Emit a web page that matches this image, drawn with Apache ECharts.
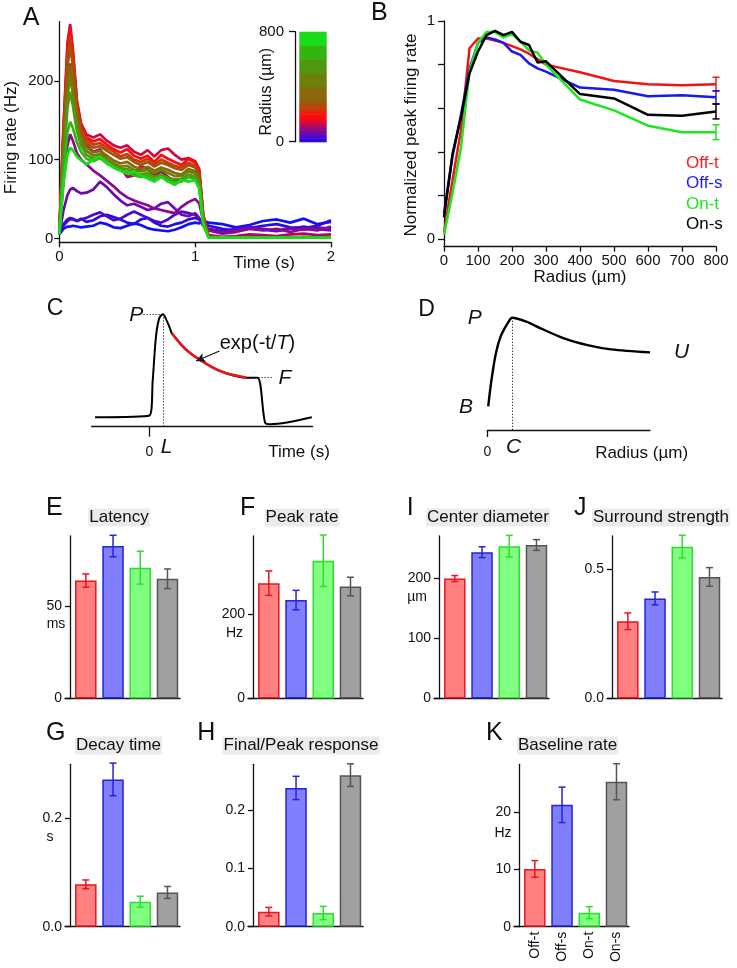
<!DOCTYPE html>
<html><head><meta charset="utf-8">
<script src="https://cdn.jsdelivr.net/npm/echarts@6/dist/echarts.min.js"></script>
<style>html,body{margin:0;padding:0;background:#fff}#c{width:737px;height:968px}</style>
</head><body><div id="c"></div>
<script>
// ---------- Panel A: firing-rate traces ----------
const timeA = [0,0.03,0.06,0.08,0.1,0.13,0.16,0.2,0.25,0.3,0.35,0.4,0.45,0.5,0.55,0.6,0.65,0.7,0.75,0.8,0.85,0.9,0.95,1.0,1.03,1.06,1.1,1.2,1.3,1.4,1.5,1.6,1.7,1.8,1.9,2.0];
const radiiA = [0,25,50,75,100,125,150,200,250,300,400,500,600,700,800];
const traceR0   = [5,12,15,15,16,15,14,15,16,20,18,14,13,16,19,17,13,11,10,9,11,14,18,20,19,22,20,18,14,17,22,24,20,25,18,21];
const traceR25  = [5,16,22,24,25,22,25,21,23,28,30,27,24,20,18,24,26,20,16,15,18,20,24,26,24,20,16,12,10,13,16,18,14,13,16,23];
const traceR50  = [5,18,24,26,24,22,24,26,30,33,28,23,25,30,34,30,26,22,20,24,30,34,32,30,24,16,12,9,12,14,11,9,12,15,12,10];
const traceR75  = [5,35,55,62,64,60,57,58,62,72,65,56,48,42,44,40,36,38,44,46,38,30,28,32,26,16,11,8,10,14,12,10,13,11,14,12];
const traceR100 = [5,70,118,132,124,108,100,94,86,80,73,66,58,52,48,45,42,38,36,34,32,40,46,50,44,22,10,6,8,12,10,12,8,12,10,15];
const traceR125 = [5,120,200,222,192,150,130,118,110,113,100,95,90,78,80,92,88,80,85,78,72,75,80,78,68,22,4,2,3,5,4,3,5,6,4,5];
const traceR150 = [5,140,248,272,240,175,146,132,128,132,124,118,115,118,110,106,112,104,112,114,106,100,102,98,88,30,3,1,2,1,2,1,1,2,1,2];
const traceR200 = [5,135,240,266,236,172,143,128,123,126,119,113,109,113,105,101,105,97,106,101,97,93,101,96,86,28,2,1,1,2,1,1,2,1,1,2];
const traceR250 = [5,130,230,256,228,168,139,125,119,121,115,110,104,107,100,97,101,94,100,96,92,90,96,92,82,26,2,1,1,1,1,1,1,1,1,1];
const traceR300 = [5,124,218,244,218,162,135,121,115,117,111,106,101,103,97,93,97,91,96,93,89,87,93,90,80,25,1,1,1,1,1,1,1,1,1,1];
const traceR400 = [5,112,196,220,198,152,128,116,109,111,105,99,95,97,91,88,91,86,90,87,83,81,88,85,76,23,1,1,1,1,1,1,1,1,1,1];
const traceR500 = [5,102,180,205,184,144,123,111,105,107,101,95,91,92,87,85,87,83,87,83,79,79,85,82,72,22,1,1,1,1,1,1,1,1,1,1];
const traceR600 = [5,92,165,186,168,136,118,106,101,104,98,92,88,88,83,81,83,78,81,77,75,75,81,78,68,20,1,1,1,1,1,1,1,1,1,1];
const traceR700 = [5,82,135,148,140,122,110,101,98,102,95,90,86,84,80,78,80,74,78,74,71,72,78,75,65,18,1,1,1,1,1,1,1,1,1,1];
const traceR800 = [5,70,106,115,112,104,99,94,100,104,96,90,86,82,85,80,76,72,78,72,68,74,72,74,63,16,1,1,1,1,1,1,1,1,1,1];
const tracesA = [traceR0,traceR25,traceR50,traceR75,traceR100,traceR125,traceR150,traceR200,traceR250,traceR300,traceR400,traceR500,traceR600,traceR700,traceR800];
const timeTicksA = [0,1,2];
const rateTicksA = [0,100,200];

// colour scale (radius -> colour), also the colour-bar bands
const colorRadii = [0,25,50,75,100,125,150,175,200,225,250,275,300,400,500,600,700,800];
const colorHex   = ['#1010ff','#2a0ae6','#4a0acc','#6a0ab0','#8a0a90','#aa0a6a','#d00a40','#f00a1a','#ff0a0a','#e8200a','#cc380a','#b4480a','#a0560a','#88680a','#6e800c','#50980e','#34b410','#18dc18'];
const colorBarTicks = [0,800];

// ---------- Panel B ----------
const radiiB = [0,25,50,75,100,125,150,175,200,225,250,275,300,400,500,600,700,800];
const offT = [0.03,0.27,0.50,0.875,0.92,0.92,0.91,0.90,0.885,0.87,0.85,0.825,0.80,0.765,0.725,0.71,0.705,0.71];
const offS = [0.118,0.38,0.57,0.78,0.90,0.925,0.915,0.90,0.86,0.845,0.806,0.783,0.768,0.695,0.685,0.655,0.66,0.65];
const onT  = [0.02,0.21,0.42,0.77,0.90,0.95,0.95,0.925,0.94,0.905,0.865,0.855,0.80,0.64,0.59,0.52,0.49,0.49];
const onS  = [0.10,0.39,0.56,0.76,0.86,0.935,0.955,0.935,0.95,0.905,0.89,0.81,0.815,0.665,0.645,0.57,0.565,0.585];
const errB800 = [0.032,0.03,0.034,0.034];
const legendB = ['Off-t','Off-s','On-t','On-s'];
const yTicksB = [0,0.2,0.4,0.6,0.8,1];
const yLabelsB = [0,1];

// ---------- Panel C / D schematics ----------
const schemC_t = [-0.504,0,0.03,0.06,0.09,0.124,0.15,0.19,0.207,0.356,0.574,0.704,0.899,1.0,1.07,1.12,1.503];
const schemC_v = [-0.017,0.0,0.35,0.78,0.96,1.0,0.96,0.86,0.812,0.634,0.48,0.42,0.374,0.374,-0.07,-0.085,-0.017];
const decayC_t = [0.207,0.356,0.574,0.704,0.899];
const decayC_v = [0.812,0.634,0.48,0.42,0.374];
const schemD_r = [0.5,2.5,5.2,8.1,12.4,15.3,24,32.7,47.1,61.6,76,100];
const schemD_v = [0.21,0.445,0.682,0.831,0.949,1.0,0.964,0.905,0.816,0.756,0.718,0.691];

// ---------- Bar panels ----------
const categories = ['Off-t','Off-s','On-t','On-s'];
const latency = [63.7,82.4,70.7,64.7],      latencyErr = [3.6,5.8,8.9,5.3];
const peakRate = [273,233,326,265],          peakRateErr = [29,23,61,22];
const centerDiam = [200,244,254,256],        centerDiamErr = [5,9,18,9];
const surround = [0.298,0.386,0.586,0.469],  surroundErr = [0.032,0.025,0.044,0.036];
const decayTime = [0.078,0.271,0.046,0.063], decayTimeErr = [0.008,0.03,0.01,0.011];
const finalPeak = [0.0257,0.238,0.0235,0.26],finalPeakErr = [0.0074,0.02,0.0114,0.0194];
const baseline = [10.1,21.3,2.45,25.35],     baselineErr = [1.46,3.1,1.05,3.15];

// ================= build =================
const FONT = "'Liberation Sans', Arial, sans-serif";
const INK = '#111';
const AX = {color:'#111', width:1.3};
const barFill = ['#ff8080','#8080ff','#80ff80','#a0a0a0'];
const barEdge = ['#e8141e','#2424d8','#2ede2e','#555555'];
const lineB = ['#f01414','#1818e8','#1ee61e','#000000'];

const grids=[], xAxes=[], yAxes=[], series=[], graphics=[];
function grid(l,t,w,h){grids.push({left:l,top:t,width:w,height:h});return grids.length-1;}
function colorFor(r){return colorHex[colorRadii.indexOf(r)];}
function lbl(size){return {color:INK,fontFamily:FONT,fontSize:size};}

function xAx(gi,o){xAxes.push(Object.assign({type:'value',gridIndex:gi,position:'bottom',splitLine:{show:false},
  axisLine:{show:true,onZero:false,lineStyle:AX}},o));return xAxes.length-1;}
function yAx(gi,o){yAxes.push(Object.assign({type:'value',gridIndex:gi,position:'left',splitLine:{show:false},
  axisLine:{show:true,onZero:false,lineStyle:AX}},o));return yAxes.length-1;}

function T(text,x,y,o){o=o||{};graphics.push({type:'text',x:x,y:y,rotation:o.rot||0,silent:true,z:10,
  style:Object.assign({text:text,fill:o.color||INK,fontFamily:FONT,fontSize:o.size||17,fontStyle:o.italic?'italic':'normal',
  align:o.align||'center',verticalAlign:'middle',backgroundColor:o.bg,padding:o.pad},o.extra||{})});}

function errRender(colors,cap){return function(params,api){
  const x=api.value(0),v=api.value(1),e=api.value(2),c=colors[api.value(3)];
  const p1=api.coord([x,v+e]),p2=api.coord([x,v-e]);const st={stroke:c,lineWidth:1.5};
  return {type:'group',children:[
    {type:'line',shape:{x1:p1[0],y1:p1[1],x2:p2[0],y2:p2[1]},style:st},
    {type:'line',shape:{x1:p1[0]-cap,y1:p1[1],x2:p1[0]+cap,y2:p1[1]},style:st},
    {type:'line',shape:{x1:p2[0]-cap,y1:p2[1],x2:p2[0]+cap,y2:p2[1]},style:st}]};};}

// ---- A ----
let g=grid(59.3,21.7,271.7,220.6);
let xi=xAx(g,{min:0,max:2,axisTick:{customValues:timeTicksA,length:5,lineStyle:AX},axisLabel:Object.assign({customValues:timeTicksA,margin:7},lbl(15))});
let yi=yAx(g,{min:-5,max:275,axisTick:{customValues:rateTicksA,length:5,lineStyle:AX},axisLabel:Object.assign({customValues:rateTicksA,margin:6},lbl(15))});
tracesA.forEach((tr,k)=>{series.push({type:'line',xAxisIndex:xi,yAxisIndex:yi,symbol:'none',silent:true,
  lineStyle:{width:2.7,color:colorFor(radiiA[k])},data:timeA.map((t,i)=>[t,tr[i]])});});
// colour bar
g=grid(299.3,31.7,27.4,110);
xi=xAx(g,{show:false,min:0,max:1});
yi=yAx(g,{min:0,max:800,offset:4.3,axisTick:{customValues:colorBarTicks,length:6,lineStyle:AX},axisLabel:Object.assign({customValues:colorBarTicks,margin:11},lbl(15))});
series.push({type:'custom',xAxisIndex:xi,yAxisIndex:yi,silent:true,
  data:colorRadii.slice(0,-1).map((r,i)=>[i,r,colorRadii[i+1]]),
  renderItem:(p,api)=>{const a=api.coord([0,api.value(1)]),b=api.coord([1,api.value(2)]);
    return {type:'rect',shape:{x:a[0],y:b[1],width:b[0]-a[0],height:a[1]-b[1]+0.6},style:{fill:colorHex[api.value(0)+1]}};}});

// ---- B ----
g=grid(444,21,272,225.7);
xi=xAx(g,{min:0,max:800,interval:100,axisTick:{length:5,lineStyle:AX},axisLabel:Object.assign({margin:7},lbl(15))});
yi=yAx(g,{min:-0.035,max:1,axisTick:{customValues:yTicksB,length:6,lineStyle:AX},axisLabel:Object.assign({customValues:yLabelsB,margin:9},lbl(15))});
[offT,offS,onT,onS].forEach((arr,k)=>{series.push({type:'line',xAxisIndex:xi,yAxisIndex:yi,symbol:'none',silent:true,
  lineStyle:{width:2.5,color:lineB[k]},data:radiiB.map((r,i)=>[r,arr[i]])});});
series.push({type:'custom',xAxisIndex:xi,yAxisIndex:yi,silent:true,clip:false,z:5,
  data:[offT,offS,onT,onS].map((arr,k)=>[800,arr[arr.length-1],errB800[k],k]),renderItem:errRender(lineB,3.5)});

// ---- C ----
g=grid(91.7,314.3,220.9,112.4);
xi=xAx(g,{min:-0.535,max:1.51,axisTick:{customValues:[0],length:10,lineStyle:AX},axisLabel:Object.assign({customValues:[0],margin:18},lbl(14))});
yi=yAx(g,{show:false,min:-0.11,max:1});
const dotted={color:'#222',width:1,type:[1.2,1.8]};
series.push({type:'line',xAxisIndex:xi,yAxisIndex:yi,symbol:'none',silent:true,clip:false,smooth:0.3,
  lineStyle:{width:2,color:'#000'},data:schemC_t.map((t,i)=>[t,schemC_v[i]]),
  markLine:{silent:true,symbol:['none','none'],label:{show:false},lineStyle:dotted,animation:false,data:[
    [{coord:[0.124,1.0]},{coord:[0.124,-0.11]}],
    [{coord:[-0.056,1.0]},{coord:[0.11,1.0]}],
    [{coord:[1.01,0.374]},{coord:[1.148,0.374]}]]}});
series.push({type:'line',xAxisIndex:xi,yAxisIndex:yi,symbol:'none',silent:true,smooth:0.3,z:3,
  lineStyle:{width:2.6,color:'#e8141e'},data:decayC_t.map((t,i)=>[t,decayC_v[i]]),
  markLine:{silent:true,symbol:['none','arrow'],symbolSize:[7,9],label:{show:false},lineStyle:{color:'#111',width:1.2,type:'solid'},animation:false,
    data:[[{coord:[0.648,0.638]},{coord:[0.432,0.539]}]]}});

// ---- D ----
g=grid(487.4,317.7,162.6,112.3);
xi=xAx(g,{min:0,max:100,axisTick:{customValues:[0],length:7,lineStyle:AX},axisLabel:Object.assign({customValues:[0],margin:15},lbl(14))});
yi=yAx(g,{show:false,min:0,max:1});
series.push({type:'line',xAxisIndex:xi,yAxisIndex:yi,symbol:'none',silent:true,clip:false,smooth:0.3,
  lineStyle:{width:2.4,color:'#000'},data:schemD_r.map((r,i)=>[r,schemD_v[i]]),
  markLine:{silent:true,symbol:['none','none'],label:{show:false},lineStyle:dotted,animation:false,data:[
    [{coord:[15.3,1.0]},{coord:[15.3,0]}],
    [{coord:[-2.5,1.0]},{coord:[13.9,1.0]}],
    [{coord:[-7.6,0.21]},{coord:[-0.5,0.21]}],
    [{coord:[102,0.691]},{coord:[112,0.691]}]]}});

// ---- bar panels ----
const BXMIN=-0.765, BXMAX=3.46;
function barPanel(left,top,h,vals,errs,yMax,ticks,fmt,cats){
  const gi=grid(left,top,115,h);
  const xo={min:BXMIN,max:BXMAX,axisTick:{show:false},axisLabel:{show:false}};
  if(cats){xo.axisLabel=Object.assign({show:true,customValues:[0,1,2,3],rotate:90,margin:5,formatter:v=>categories[Math.round(v)]},lbl(14));}
  const a=xAx(gi,xo);
  yAx(gi,{min:0,max:yMax,offset:-5,axisTick:{customValues:ticks,length:5,lineStyle:AX},
    axisLabel:Object.assign({customValues:ticks,margin:8,formatter:fmt},lbl(14))});
  series.push({type:'bar',xAxisIndex:a,yAxisIndex:a,barWidth:21.5,silent:true,
    data:vals.map((v,i)=>({value:[i,v],itemStyle:{color:barFill[i],borderColor:barEdge[i],borderWidth:1.5}}))});
  series.push({type:'custom',xAxisIndex:a,yAxisIndex:a,silent:true,clip:false,z:5,
    data:vals.map((v,i)=>[i,v,errs[i],i]),renderItem:errRender(barEdge,3.5)});
}
const f0=v=>String(v), f1=v=>v.toFixed(1);
barPanel(65,536,162.5,latency,latencyErr,87.8,[0,50],f0);
barPanel(248,536,162.5,peakRate,peakRateErr,384.6,[0,200],f0);
barPanel(434,536,162.5,centerDiam,centerDiamErr,271,[0,100,200],f0);
barPanel(607,536,162.5,surround,surroundErr,0.627,[0,0.5],f1);
barPanel(65,764.3,162.4,decayTime,decayTimeErr,0.2988,[0,0.2],f1);
barPanel(248,764.3,162.4,finalPeak,finalPeakErr,0.2786,[0,0.1,0.2],f1);
barPanel(514,764.3,162.4,baseline,baselineErr,28.39,[0,10,20],f0,true);

// ---- texts ----
[['A',22.7,18,25],['B',371,13,25],['C',46.7,309,23],['D',418.3,310,23],['E',46,508,25],['F',240,508,25],['I',406.7,508,25],['J',574,508,25],
 ['G',46,733,25],['H',197.3,733,25],['K',486,733,25]].forEach(a=>T(a[0],a[1],a[2],{size:a[3],align:'left'}));
T('Firing rate (Hz)',11,137.5,{rot:Math.PI/2});
T('Time (s)',264,263);
T('Radius (µm)',267,91.7,{rot:Math.PI/2,size:16});
T('Normalized peak firing rate',411,135,{rot:Math.PI/2});
T('Radius (µm)',580,277);
legendB.forEach((s,k)=>T(s,686,[163.3,183.5,204,224.5][k],{align:'left',color:['#ff1a1a','#1a1aff','#1ee61e','#000'][k],size:17}));
// C annotations
T('P',143.3,315,{italic:true,size:21,align:'right'});
T('L',166.7,447.5,{italic:true,size:21});
T('F',285,377.7,{italic:true,size:21});
T('{n|exp(-t/}{i|T}{n|)}',257.5,343.3,{extra:{rich:{n:{fontSize:20,fontFamily:FONT,fill:INK},i:{fontSize:20,fontFamily:FONT,fontStyle:'italic',fill:INK}}}});
T('Time (s)',299,452.3,{size:17});
// D annotations
T('P',481.7,318.3,{italic:true,size:21,align:'right'});
T('B',466,406.7,{italic:true,size:21});
T('U',681.5,352.3,{italic:true,size:21});
T('C',513.5,447.5,{italic:true,size:21});
T('Radius (µm)',641.6,453.3,{size:17});
// bar titles
const bg={bg:'#ebebeb',pad:[1,1,0,1]};
T('Latency',119,517.5,bg);T('Peak rate',302,517.5,bg);T('Center diameter',488,517.5,bg);T('Surround strength',661,517.5,bg);
T('Decay time',118.5,745.5,bg);T('Final/Peak response',301,745.5,bg);T('Baseline rate',567.5,745.5,bg);
// units
T('ms',56,624,{size:14});T('Hz',234.5,633,{size:14});T('µm',417,596.7,{size:14});T('s',50,836.7,{size:14});T('Hz',503,832.7,{size:14});

const chart=echarts.init(document.getElementById('c'),null,{renderer:'canvas',width:737,height:968});
chart.setOption({animation:false,backgroundColor:'#fff',textStyle:{fontFamily:FONT},grid:grids,xAxis:xAxes,yAxis:yAxes,series:series,graphic:graphics});
</script></body></html>
